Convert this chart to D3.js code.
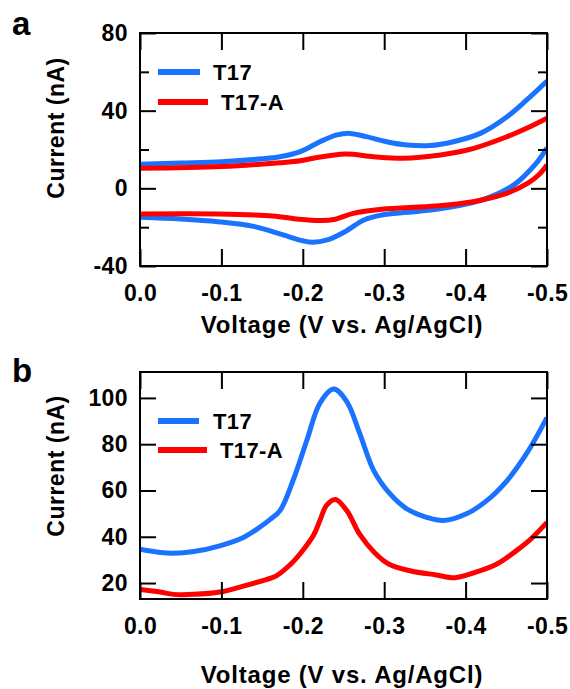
<!DOCTYPE html>
<html>
<head>
<meta charset="utf-8">
<script src="https://cdn.jsdelivr.net/npm/d3@7/dist/d3.min.js"></script>
<style>
  body { margin: 0; background: #fff; }
  text { font-family: "Liberation Sans", Arial, sans-serif; font-weight: bold; fill: #000; }
</style>
</head>
<body>
<div id="chart"></div>
<script>
var w = 570,
    h = 689;

// series names
var seriesNames = ["T17", "T17-A"];
var seriesColors = ["#1a73ff", "#ff0000"];

// panel a: cyclic voltammetry, two branches per series
var cvT17UpV = [0, -0.05, -0.1, -0.15, -0.172, -0.197, -0.221, -0.242, -0.258, -0.278, -0.303, -0.328, -0.356, -0.385, -0.418, -0.451, -0.475, -0.5];
var cvT17UpI = [12.4, 13.0, 13.7, 15.2, 16.3, 18.9, 24.0, 27.5, 28.3, 26.6, 24.0, 22.3, 22.0, 24.0, 28.3, 36.9, 45.5, 55.3];
var cvT17LoV = [0, -0.05, -0.096, -0.141, -0.176, -0.2, -0.212, -0.23, -0.252, -0.275, -0.297, -0.33, -0.364, -0.409, -0.433, -0.454, -0.467, -0.479, -0.49, -0.5];
var cvT17LoI = [-14.9, -15.8, -17.2, -19.7, -24.0, -27.0, -27.8, -26.6, -22.3, -16.3, -13.7, -12.3, -10.8, -7.4, -4.0, 0.3, 4.3, 9.3, 14.6, 20.8];
var cvT17AUpV = [0, -0.1, -0.172, -0.197, -0.213, -0.252, -0.287, -0.323, -0.369, -0.41, -0.451, -0.475, -0.5];
var cvT17AUpI = [10.3, 11.2, 13.2, 14.2, 15.5, 17.7, 16.3, 15.5, 17.2, 20.6, 26.6, 30.9, 36.1];
var cvT17ALoV = [0, -0.096, -0.163, -0.195, -0.222, -0.24, -0.262, -0.297, -0.364, -0.409, -0.43, -0.454, -0.477, -0.49, -0.5];
var cvT17ALoI = [-13.2, -13.2, -14.2, -15.9, -16.6, -15.9, -12.9, -10.8, -9.1, -6.9, -5.0, -2.0, 2.8, 7.0, 12.0];

// panel b: differential pulse voltammetry
var dpvT17V = [0, -0.025, -0.041, -0.066, -0.098, -0.127, -0.147, -0.16, -0.172, -0.188, -0.205, -0.221, -0.238, -0.254, -0.27, -0.287, -0.307, -0.328, -0.352, -0.373, -0.401, -0.426, -0.451, -0.475, -0.5];
var dpvT17I = [34.6, 33.2, 32.9, 33.6, 36.1, 39.7, 44.1, 47.5, 51.3, 64.3, 81.7, 97.7, 103.8, 98.4, 84.6, 68.7, 58.6, 52.0, 48.4, 47.0, 49.9, 55.6, 64.3, 76.0, 91.5];
var dpvT17AV = [0, -0.025, -0.041, -0.066, -0.098, -0.127, -0.156, -0.167, -0.185, -0.198, -0.213, -0.221, -0.229, -0.24, -0.254, -0.27, -0.288, -0.306, -0.333, -0.364, -0.387, -0.411, -0.438, -0.462, -0.48, -0.5];
var dpvT17AI = [17.2, 16.1, 15.1, 15.1, 16.1, 18.7, 21.6, 23.0, 28.1, 33.2, 40.5, 47.0, 53.5, 56.1, 51.3, 41.0, 33.2, 28.1, 25.2, 23.5, 22.3, 24.5, 28.1, 33.9, 39.0, 46.2];

// ticks
var xTicks = [0, -0.1, -0.2, -0.3, -0.4, -0.5];
var yTicksA = [-40, 0, 40, 80],
    yMinorA = [-20, 20, 60];
var yTicksB = [20, 40, 60, 80, 100];

function zip(xs, ys) {
    return xs.map(function(x, i) { return [x, ys[i]]; });
}

var svg = d3.select("#chart").append("svg")
    .attr("width", w)
    .attr("height", h);

var x = d3.scaleLinear()
    .domain([0, -0.5])
    .range([140, 547]);

// draws one panel
function panel(opts) {
    var y = d3.scaleLinear()
        .domain(opts.domain)
        .range([opts.bottom, opts.top]);

    var g = svg.append("g");

    var line = d3.line()
        .x(function(d) { return x(d[0]); })
        .y(function(d) { return y(d[1]); })
        .curve(d3.curveCatmullRom.alpha(0.5));

    // clip to frame
    var clipId = "clip-" + opts.label;
    g.append("clipPath").attr("id", clipId)
        .append("rect")
        .attr("x", 140).attr("y", opts.top)
        .attr("width", 407).attr("height", opts.bottom - opts.top);

    var lines = g.append("g").attr("clip-path", "url(#" + clipId + ")");
    opts.series.forEach(function(s) {
        lines.append("path")
            .attr("d", line(s.data))
            .attr("fill", "none")
            .attr("stroke", s.color)
            .attr("stroke-width", 5)
            .attr("stroke-linejoin", "round");
    });

    function fmtX(d) { return d.toFixed(1); }
    function fmtY(d) { return String(d); }   // plain hyphen minus

    // bottom axis, inward ticks
    g.append("g")
        .attr("transform", "translate(0," + opts.bottom + ")")
        .call(d3.axisBottom(x).tickValues(xTicks).tickSize(-17).tickPadding(19).tickFormat(fmtX));
    // top axis, ticks only
    g.append("g")
        .attr("transform", "translate(0," + opts.top + ")")
        .call(d3.axisTop(x).tickValues(xTicks).tickSize(-17).tickFormat(""));
    // left axis
    g.append("g")
        .attr("transform", "translate(140,0)")
        .call(d3.axisLeft(y).tickValues(opts.ticks).tickSize(-16).tickPadding(12).tickFormat(fmtY));
    g.append("g")
        .attr("transform", "translate(547,0)")
        .call(d3.axisRight(y).tickValues(opts.ticks).tickSize(-16).tickFormat(""));
    if (opts.minor) {
        g.append("g")
            .attr("transform", "translate(140,0)")
            .call(d3.axisLeft(y).tickValues(opts.minor).tickSize(-9).tickFormat(""));
        g.append("g")
            .attr("transform", "translate(547,0)")
            .call(d3.axisRight(y).tickValues(opts.minor).tickSize(-9).tickFormat(""));
    }

    g.selectAll(".domain").remove();
    g.selectAll(".tick line").attr("stroke", "#000").attr("stroke-width", 2);
    g.selectAll(".tick text")
        .style("font-size", "23px")
        .style("font-family", "'Liberation Sans', Arial, sans-serif")
        .style("font-weight", "bold")
        .style("letter-spacing", "0.4px")
        .attr("fill", "#000");

    // frame
    g.append("rect")
        .attr("x", 140).attr("y", opts.top)
        .attr("width", 407).attr("height", opts.bottom - opts.top)
        .attr("fill", "none")
        .attr("stroke", "#000")
        .attr("stroke-width", 2);

    // axis titles
    g.append("text")
        .attr("x", 342)
        .attr("y", opts.xTitleY)
        .attr("text-anchor", "middle")
        .style("font-size", "24px")
        .style("letter-spacing", "0.8px")
        .text("Voltage (V vs. Ag/AgCl)");

    g.append("text")
        .attr("transform", "translate(64," + opts.yTitleY + ") rotate(-90)")
        .attr("text-anchor", "middle")
        .style("font-size", "23px")
        .style("letter-spacing", "0.5px")
        .text("Current (nA)");

    // panel letter
    g.append("text")
        .attr("x", 12)
        .attr("y", opts.letterY)
        .style("font-size", "33px")
        .text(opts.label);

    // legend
    var lg = g.append("g");
    opts.legend.forEach(function(l, i) {
        lg.append("line")
            .attr("x1", 158).attr("x2", l.x2)
            .attr("y1", l.y).attr("y2", l.y)
            .attr("stroke", seriesColors[i])
            .attr("stroke-width", 6);
        lg.append("text")
            .attr("x", l.tx)
            .attr("y", l.y + 8)
            .style("font-size", "22px")
            .style("letter-spacing", "0.4px")
            .text(seriesNames[i]);
    });
}

panel({
    label: "a",
    top: 33,
    bottom: 266,
    domain: [-40, 80],
    ticks: yTicksA,
    minor: yMinorA,
    xTitleY: 333,
    yTitleY: 128,
    letterY: 35,
    legend: [{y: 72, x2: 200, tx: 213}, {y: 102, x2: 208, tx: 221}],
    series: [
        {color: seriesColors[0], data: zip(cvT17UpV, cvT17UpI)},
        {color: seriesColors[0], data: zip(cvT17LoV, cvT17LoI)},
        {color: seriesColors[1], data: zip(cvT17AUpV, cvT17AUpI)},
        {color: seriesColors[1], data: zip(cvT17ALoV, cvT17ALoI)}
    ]
});

panel({
    label: "b",
    top: 372,
    bottom: 599,
    domain: [13.1, 111.2],
    ticks: yTicksB,
    minor: null,
    xTitleY: 683,
    yTitleY: 466,
    letterY: 382,
    legend: [{y: 421, x2: 199, tx: 213}, {y: 450, x2: 207, tx: 220}],
    series: [
        {color: seriesColors[0], data: zip(dpvT17V, dpvT17I)},
        {color: seriesColors[1], data: zip(dpvT17AV, dpvT17AI)}
    ]
});
</script>
</body>
</html>
